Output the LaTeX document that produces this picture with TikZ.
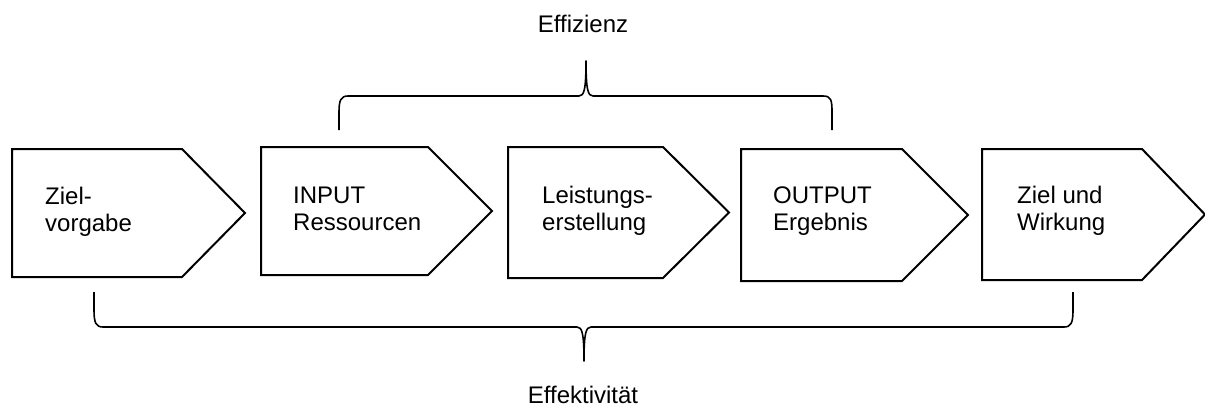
\documentclass[tikz,border=0pt]{standalone}
\usepackage{fontspec}
\setmainfont{Liberation Sans}
% two left-aligned lines whose baseline is the first line's
\newcommand\twolines[2]{\renewcommand\arraystretch{1}\begin{tabular}[t]{@{}l@{}}#1\\#2\end{tabular}}
% pentagon-shaped process stage: left, top, bottom, shoulder x, tip x
\newcommand\stagebox[5]{\draw[stage] (#1,#2) -- (#4,#2) -- (#5,{(#2+#3)/2}) -- (#4,#3) -- (#1,#3) -- cycle;}
\begin{document}
\begin{tikzpicture}[x=1pt,y=-1pt,
  stage/.style={draw=black, line width=2pt, fill=white, line join=miter},
  brace/.style={draw=black, line width=1.6pt, line join=round},
  lbl/.style={inner sep=0pt, anchor=base west, font=\fontsize{24}{27}\selectfont},
  bracelabel/.style={inner sep=0pt, anchor=base, font=\fontsize{24}{27}\selectfont}]
\useasboundingbox (0,0) rectangle (1205,412);

% process stages
\stagebox{12}{149}{277}{182}{245}
\stagebox{261}{147}{275}{428}{492}
\stagebox{508}{147}{278}{663}{729}
\stagebox{741}{149}{281}{902}{968}
\stagebox{982}{149}{280}{1142}{1205}

\node[lbl] (s1) at (45,204) {\twolines{Ziel-}{vorgabe}};
\node[lbl] (s2) at (293,203) {\twolines{INPUT}{Ressourcen}};
\node[lbl] (s3) at (542,203) {\twolines{Leistungs-}{erstellung}};
\node[lbl] (s4) at (773,203) {\twolines{OUTPUT}{Ergebnis}};
\node[lbl] (s5) at (1017,203) {\twolines{Ziel und}{Wirkung}};

% brace ends and tips
\coordinate (eA) at (339,130);
\coordinate (eB) at (832,130);
\coordinate (eT) at (586,61);
\coordinate (fA) at (94,292);
\coordinate (fB) at (1073,292);
\coordinate (fT) at (584,361);

% upper brace: Effizienz
\draw[brace] (eA) -- (339,112) .. controls (339,100) and (341,96) .. (348,96)
  -- (579,96) .. controls (584,96) and (586,90) .. (eT)
  .. controls (586,90) and (588,96) .. (593,96)
  -- (823,96) .. controls (831,96) and (832,100) .. (832,112) -- (eB);
\node[bracelabel] (eff) at (583,33) {Effizienz};

% lower brace: Effektivität
\draw[brace] (fA) -- (94,310) .. controls (94,323) and (96,327) .. (103,327)
  -- (577,327) .. controls (582,327) and (584,333) .. (fT)
  .. controls (584,333) and (586,327) .. (591,327)
  -- (1064,327) .. controls (1071,327) and (1073,323) .. (1073,310) -- (fB);
\node[bracelabel] (efk) at (583,403) {Effektivität};
\end{tikzpicture}
\end{document}
